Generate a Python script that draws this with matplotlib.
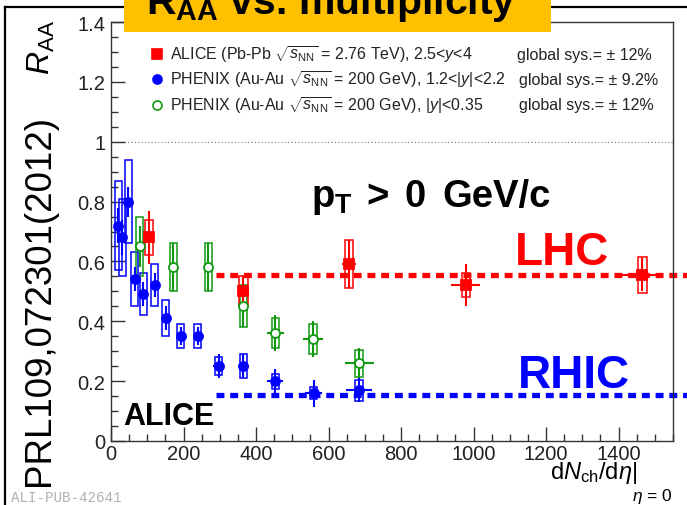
import matplotlib
matplotlib.use("Agg")
import matplotlib.pyplot as plt
from matplotlib.lines import Line2D
from matplotlib.patches import Rectangle

plt.rcParams['font.family'] = ['Liberation Sans', 'DejaVu Sans']
plt.rcParams['mathtext.fontset'] = 'custom'
plt.rcParams['mathtext.rm'] = 'Liberation Sans'
plt.rcParams['mathtext.it'] = 'Liberation Sans:italic'
plt.rcParams['mathtext.bf'] = 'Liberation Sans:bold'

# ---------------- data ----------------
# PHENIX Au-Au forward (1.2<|y|<2.2), blue filled circles
phx_fwd_x = [20, 31, 48, 65, 89, 120, 151, 192, 239, 297, 365, 453, 559, 684]
phx_fwd_y = [0.72, 0.68, 0.80, 0.54, 0.49, 0.52, 0.41, 0.35, 0.35, 0.25, 0.25, 0.20, 0.16, 0.17]
phx_fwd_stat = [0.06, 0.06, 0.05, 0.04, 0.04, 0.04, 0.04, 0.03, 0.03, 0.04, 0.04, 0.04, 0.045, 0.04]
phx_fwd_sys = [0.15, 0.13, 0.14, 0.09, 0.07, 0.07, 0.06, 0.04, 0.04, 0.03, 0.04, 0.025, 0.02, 0.035]
phx_fwd_xerr = [4, 4, 4, 5, 5, 5, 6, 8, 8, 15, 15, 22, 23, 35]

# PHENIX Au-Au mid (|y|<0.35), green open circles
phx_mid_x = [79, 172, 268, 365, 453, 557, 684]
phx_mid_y = [0.65, 0.58, 0.58, 0.45, 0.36, 0.34, 0.26]
phx_mid_stat = [0.07, 0.08, 0.08, 0.07, 0.06, 0.06, 0.05]
phx_mid_sys = [0.10, 0.08, 0.08, 0.07, 0.05, 0.05, 0.045]
phx_mid_xerr = [5, 8, 8, 15, 23, 27, 40]

# ALICE Pb-Pb (2.5<y<4), red squares
alice_x = [105, 365, 656, 979, 1465]
alice_y = [0.68, 0.50, 0.59, 0.52, 0.555]
alice_stat = [0.09, 0.05, 0.08, 0.07, 0.055]
alice_sys = [0.06, 0.05, 0.08, 0.04, 0.06]
alice_xerr = [8, 10, 20, 40, 56]

# guide levels
lhc_level = 0.555
rhic_level = 0.153
guide_x = [290, 1600]
unity_level = 1.0

x_ticks = [0, 200, 400, 600, 800, 1000, 1200, 1400]
x_ticklabels = ['0', '200', '400', '600', '800', '1000', '1200', '1400']
y_ticks = [0, 0.2, 0.4, 0.6, 0.8, 1.0, 1.2, 1.4]
y_ticklabels = ['0', '0.2', '0.4', '0.6', '0.8', '1', '1.2', '1.4']

legend_labels = [
    r'ALICE (Pb-Pb $\sqrt{s_{\rm NN}}$ = 2.76 TeV), 2.5<$y$<4',
    r'PHENIX (Au-Au $\sqrt{s_{\rm NN}}$ = 200 GeV), 1.2<|$y$|<2.2',
    r'PHENIX (Au-Au $\sqrt{s_{\rm NN}}$ = 200 GeV), |$y$|<0.35',
]
legend_sys = ['global sys.= ± 12%', 'global sys.= ± 9.2%', 'global sys.= ± 12%']

# ---------------- figure ----------------
W, H = 687, 506
fig = plt.figure(figsize=(W / 100, H / 100), dpi=100)


def fx(px):
    return px / W


def fy(py):
    return 1 - py / H


ax = fig.add_axes([fx(111), fy(442), fx(673) - fx(111), fy(23) - fy(442)])
ax.set_xlim(0, 1550)
ax.set_ylim(0, 1.4)

BLUE = '#0000ff'
RED = '#ff0000'
GREEN = '#119911'

# unity line
ax.axhline(unity_level, color='#777777', lw=0.8, ls=(0, (1, 2)), zorder=1)

# guide lines (extend beyond the frame)
ax.plot(guide_x, [lhc_level, lhc_level], color=RED, lw=3.8,
        ls=(0, (1.5, 1.1)), clip_on=False, zorder=2, solid_capstyle='butt')
ax.plot(guide_x, [rhic_level, rhic_level], color=BLUE, lw=3.8,
        ls=(0, (1.5, 1.1)), clip_on=False, zorder=2, solid_capstyle='butt')


def draw_series(x, y, stat, sys, xerr, color, marker, mfc, boxw=20):
    bottoms = [yy - s for yy, s in zip(y, sys)]
    heights = [2 * s for s in sys]
    ax.bar(x, heights, bottom=bottoms, width=boxw, fill=False,
           edgecolor=color, lw=1.1, zorder=3)
    ax.errorbar(x, y, yerr=stat, xerr=xerr, fmt=marker, color=color,
                mfc=mfc, mec=color, ms=6.5, mew=1.3, elinewidth=1.5,
                capsize=0, zorder=4)


draw_series(phx_fwd_x, phx_fwd_y, phx_fwd_stat, phx_fwd_sys, phx_fwd_xerr,
            BLUE, 'o', BLUE)
draw_series(phx_mid_x, phx_mid_y, phx_mid_stat, phx_mid_sys, phx_mid_xerr,
            GREEN, 'o', 'white')
draw_series(alice_x, alice_y, alice_stat, alice_sys, alice_xerr,
            RED, 's', RED, boxw=24)

# axes styling
for side in ['left', 'bottom', 'top', 'right']:
    ax.spines[side].set_color('#333333')
    ax.spines[side].set_linewidth(1.0)
ax.set_xticks(x_ticks)
ax.set_xticklabels(x_ticklabels)
ax.set_xticks([v for v in range(0, 1551, 50)], minor=True)
ax.set_yticks(y_ticks)
ax.set_yticklabels(y_ticklabels)
ax.set_yticks([i * 0.05 for i in range(0, 29)], minor=True)
ax.tick_params(which='both', direction='in', top=False, right=False,
               colors='#333333', labelcolor='#222222', labelsize=14.5)
ax.tick_params(which='major', length=10, width=1.0)
ax.tick_params(which='minor', length=5, width=1.0)
ax.tick_params(axis='x', pad=2)
ax.tick_params(axis='y', pad=4)

# in-plot texts ("pT > 0 GeV/c" laid out with the wide spacing of the original)
pt_parts = [r'$\mathbf{p_{T}}$', '>', '0', 'GeV/c']
pt_px = [311, 366, 404, 442]
for part, px in zip(pt_parts, pt_px):
    fig.text(fx(px), fy(207), part, fontsize=27.5, weight='bold',
             ha='left', va='baseline')
fig.text(fx(515), fy(265), 'LHC', fontsize=33, weight='bold', color=RED,
         ha='left', va='baseline')
fig.text(fx(518), fy(388), 'RHIC', fontsize=33, weight='bold', color=BLUE,
         ha='left', va='baseline')
fig.text(fx(123), fy(425), 'ALICE', fontsize=22, weight='bold',
         ha='left', va='baseline')

# legend (manual)
rows = [55.3, 80.3, 105.7]
styles = [('s', RED, RED), ('o', BLUE, BLUE), ('o', GREEN, 'white')]
sys_x = [517, 519, 519]
for r, (m, c, f), lab, gs, sx in zip(rows, styles, legend_labels, legend_sys, sys_x):
    fig.add_artist(Line2D([fx(156.7)], [fy(r)], marker=m, color=c, mfc=f,
                          mec=c, ms=6.5, mew=1.2, ls='none',
                          transform=fig.transFigure))
    fig.text(fx(170.5), fy(r), lab, fontsize=11.5, ha='left', va='center',
             color='#222222')
    fig.text(fx(sx), fy(r), gs, fontsize=11.5, ha='left', va='center',
             color='#222222')

# axis titles
fig.text(fx(41), fy(48), r'$R_{\rm AA}$', fontsize=23, rotation=90,
         ha='center', va='center')
fig.text(fx(637), fy(479), r'd$N_{\rm ch}$/d$\eta$|', fontsize=17,
         ha='right', va='baseline')
fig.text(fx(672), fy(501), r'$\eta$ = 0', fontsize=12.5,
         ha='right', va='baseline')

# rotated reference text
fig.text(fx(40), fy(300), 'PRL109,072301(2012)', fontsize=26.5, rotation=90,
         ha='center', va='center')

# watermark
fig.text(fx(11), fy(502), 'ALI-PUB-42641', fontsize=10.3,
         family='Liberation Mono', color='#b0b0b0', ha='left', va='baseline')

# outer frame lines
fig.add_artist(Line2D([fx(5), fx(687)], [fy(7.5), fy(7.5)], color='black',
                      lw=1.6, transform=fig.transFigure))
fig.add_artist(Line2D([fx(5), fx(5)], [fy(7.5), fy(506)], color='black',
                      lw=1.6, transform=fig.transFigure))

# title box
fig.add_artist(Rectangle((fx(124), fy(33)), fx(551) - fx(124), fy(0) - fy(33),
                         facecolor='#ffc000', edgecolor='none',
                         transform=fig.transFigure, zorder=10))
fig.text(fx(331), fy(14), r'$\mathbf{R_{AA}}$ vs. multiplicity', fontsize=29.5,
         weight='bold', ha='center', va='baseline', zorder=11)

fig.savefig('out.png', dpi=100)
